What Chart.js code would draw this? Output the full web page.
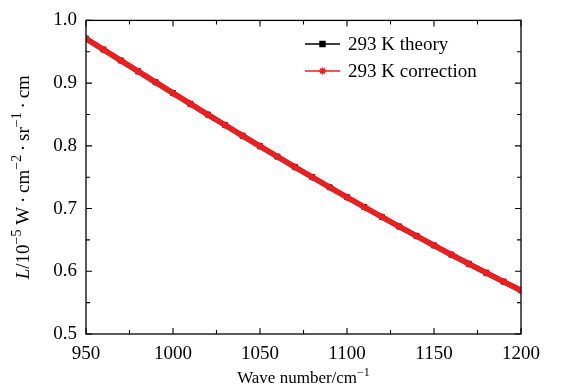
<!DOCTYPE html>
<html>
<head>
<meta charset="utf-8">
<script src="https://cdn.jsdelivr.net/npm/chart.js@4/dist/chart.umd.min.js"></script>
<style>
  html, body { margin: 0; padding: 0; background: #fff; }
  #wrap { width: 563px; height: 390px; }
</style>
</head>
<body>
<div id="wrap"><canvas id="chart"></canvas></div>
<script>
// wave number (cm^-1)
const wavenumbers = [950, 960, 970, 980, 990, 1000, 1010, 1020, 1030, 1040, 1050, 1060, 1070,
  1080, 1090, 1100, 1110, 1120, 1130, 1140, 1150, 1160, 1170, 1180, 1190, 1200];
// radiance, 10^-5 W cm^-2 sr^-1 cm
const theory = [0.9711, 0.9536, 0.9361, 0.9188, 0.9014, 0.8842, 0.8670, 0.8499, 0.8330, 0.8161,
  0.7994, 0.7829, 0.7664, 0.7502, 0.7341, 0.7181, 0.7024, 0.6868, 0.6714, 0.6563, 0.6413, 0.6265,
  0.6120, 0.5976, 0.5835, 0.5696];
const correction = [0.9709, 0.9534, 0.9359, 0.9186, 0.9012, 0.8840, 0.8668, 0.8497, 0.8328, 0.8159,
  0.7992, 0.7827, 0.7662, 0.7500, 0.7339, 0.7179, 0.7022, 0.6866, 0.6712, 0.6561, 0.6411, 0.6263,
  0.6118, 0.5974, 0.5833, 0.5694];
const seriesNames = ['293 K theory', '293 K correction'];
const xTicks = [950, 1000, 1050, 1100, 1150, 1200];
const yTicks = [0.5, 0.6, 0.7, 0.8, 0.9, 1.0];

const SERIF = '"Liberation Serif", "DejaVu Serif", serif';
const RED = 'rgb(238,30,30)';

function drawRich(ctx, parts, x, y, size, align) {
  // parts: [text, kind] kind = 'n' normal, 'i' italic, 's' superscript
  const fontFor = k => (k === 'i' ? 'italic ' : '') + (k === 's' ? Math.round(size * 0.72) : size) + 'px ' + SERIF;
  let total = 0;
  parts.forEach(p => { ctx.font = fontFor(p[1]); total += ctx.measureText(p[0]).width; });
  let cx = align === 'center' ? x - total / 2 : x;
  ctx.textAlign = 'left';
  ctx.textBaseline = 'alphabetic';
  parts.forEach(p => {
    ctx.font = fontFor(p[1]);
    ctx.fillText(p[0], cx, p[1] === 's' ? y - size * 0.42 : y);
    cx += ctx.measureText(p[0]).width;
  });
}

const decor = {
  id: 'decor',
  afterDraw(chart) {
    const ctx = chart.ctx;
    const a = chart.chartArea;
    const xs = chart.scales.x, ys = chart.scales.y;
    ctx.save();
    ctx.strokeStyle = '#000';
    ctx.fillStyle = '#000';
    ctx.lineWidth = 1.3;
    ctx.strokeRect(a.left, a.top, a.right - a.left, a.bottom - a.top);
    ctx.lineWidth = 1.1;
    ctx.beginPath();
    for (let v = 950; v <= 1200; v += 25) {
      const px = xs.getPixelForValue(v);
      const len = (v % 50 === 0) ? 6 : 4;
      ctx.moveTo(px, a.bottom); ctx.lineTo(px, a.bottom - len);
      ctx.moveTo(px, a.top); ctx.lineTo(px, a.top + len);
    }
    for (let i = 0; i <= 10; i++) {
      const v = 0.5 + i * 0.05;
      const py = ys.getPixelForValue(v);
      const len = (i % 2 === 0) ? 6 : 4;
      ctx.moveTo(a.left, py); ctx.lineTo(a.left + len, py);
      ctx.moveTo(a.right, py); ctx.lineTo(a.right - len, py);
    }
    ctx.stroke();

    // axis titles
    drawRich(ctx, [['Wave number/cm', 'n'], ['\u22121', 's']], (a.left + a.right) / 2, 383, 17, 'center');
    ctx.save();
    ctx.translate(29, (a.top + a.bottom) / 2);
    ctx.rotate(-Math.PI / 2);
    drawRich(ctx, [['L', 'i'], ['/10', 'n'], ['\u22125', 's'], [' W\u2009\u00b7\u2009cm', 'n'], ['\u22122', 's'],
      ['\u2009\u00b7\u2009sr', 'n'], ['\u22121', 's'], ['\u2009\u00b7\u2009cm', 'n']], 0, 0, 19, 'center');
    ctx.restore();

    // legend
    const rows = [44, 71];
    chart.data.datasets.forEach((ds, i) => {
      const y = rows[i];
      ctx.strokeStyle = ds.borderColor;
      ctx.lineWidth = 1.5;
      ctx.beginPath(); ctx.moveTo(305, y); ctx.lineTo(340, y); ctx.stroke();
      ctx.fillStyle = ds.pointBackgroundColor;
      ctx.strokeStyle = ds.pointBorderColor;
      ctx.lineWidth = 1.5;
      Chart.helpers.drawPoint(ctx, {pointStyle: ds.pointStyle, radius: 3.5, borderWidth: 1.5, rotation: 0}, 322.5, y);
      ctx.fillStyle = '#000';
      ctx.font = '19px ' + SERIF;
      ctx.textAlign = 'left';
      ctx.textBaseline = 'middle';
      ctx.fillText(seriesNames[i], 348, y + 1);
    });
    ctx.restore();
  }
};

new Chart(document.getElementById('chart'), {
  type: 'line',
  data: {
    datasets: [
      {
        label: seriesNames[0],
        data: wavenumbers.map((w, i) => ({x: w, y: theory[i]})),
        order: 1,
        borderColor: '#000',
        borderWidth: 5,
        pointStyle: 'rect',
        pointRadius: 3.5,
        pointBackgroundColor: '#000',
        pointBorderColor: '#000',
        pointBorderWidth: 1,
      },
      {
        label: seriesNames[1],
        data: wavenumbers.map((w, i) => ({x: w, y: correction[i]})),
        order: 0,
        borderColor: RED,
        borderWidth: 5.5,
        pointStyle: 'star',
        pointRadius: 3.5,
        pointBackgroundColor: RED,
        pointBorderColor: RED,
        pointBorderWidth: 1.5,
      },
    ],
  },
  plugins: [decor],
  options: {
    responsive: true,
    maintainAspectRatio: false,
    animation: false,
    devicePixelRatio: 1,
    layout: { padding: { left: 0, right: 42, top: 13, bottom: 0 } },
    plugins: { legend: { display: false }, tooltip: { enabled: false } },
    scales: {
      x: {
        type: 'linear',
        min: 950,
        max: 1200,
        afterFit: s => { s.height = 56; },
        afterBuildTicks: s => { s.ticks = xTicks.map(v => ({value: v})); },
        grid: { display: false, drawTicks: false },
        border: { display: false },
        ticks: { color: '#000', padding: 9, font: { family: SERIF, size: 19 }, callback: v => String(v) },
      },
      y: {
        min: 0.5,
        max: 1.0,
        afterFit: s => { s.width = 86; },
        afterBuildTicks: s => { s.ticks = yTicks.map(v => ({value: v})); },
        grid: { display: false, drawTicks: false },
        border: { display: false },
        ticks: { color: '#000', padding: 9, font: { family: SERIF, size: 19 }, callback: v => v.toFixed(1) },
      },
    },
  },
});
</script>
</body>
</html>
